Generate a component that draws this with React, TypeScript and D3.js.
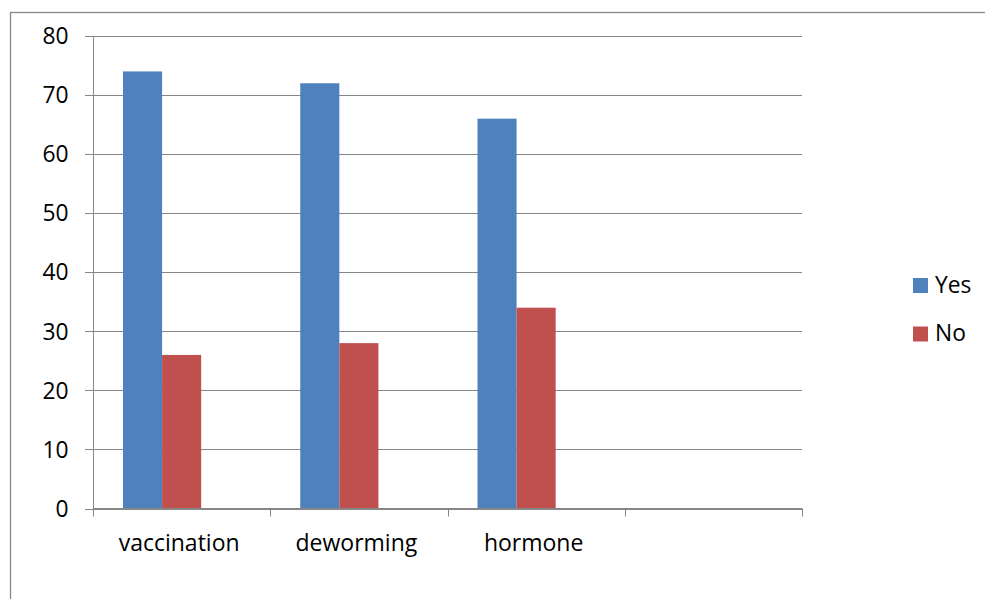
import React from "react";
import * as d3 from "d3";

const categories = ["vaccination", "deworming", "hormone", ""];
const seriesNames = ["Yes", "No"];
const yesValues = [74, 72, 66];
const noValues = [26, 28, 34];
const yTicks = [0, 10, 20, 30, 40, 50, 60, 70, 80];
const colors = ["#4F81BD", "#C0504D"];

const W = 985;
const H = 599;
const FONT = "'Open Sans', sans-serif";

export default function App() {
  const left = 93, right = 802, top = 36, bottom = 508.5;
  const x = d3.scaleBand<string>().domain(categories).range([left, right]).paddingInner(0).paddingOuter(0);
  const y = d3.scaleLinear().domain([0, 80]).range([bottom, top]);
  const bw = x.bandwidth();
  const sub = d3.scaleBand<string>().domain(["Yes", "No", "_"]).range([bw * 0.1692, bw * (1 - 0.1692)]).padding(0);
  const data = categories.slice(0, 3).map((c, i) => ({ c, vals: [yesValues[i], noValues[i]] }));
  const grid = "#868686";
  return (
    <svg width={W} height={H} style={{ position: "absolute", left: 0, top: 0, background: "#fff" }} fontFamily={FONT}>
      <rect x={10.5} y={12.5} width={W} height={H} fill="none" stroke="#878787" strokeWidth={1.3} />
      {yTicks.map((t) => (
        <g key={t}>
          <line x1={85} x2={right} y1={Math.round(y(t)) + 0.5} y2={Math.round(y(t)) + 0.5} stroke={grid} strokeWidth={1} />
          <text x={68.5} y={y(t)} dy="0.36em" textAnchor="end" fontSize={22.8} fill="#000">{t}</text>
        </g>
      ))}
      {data.map((d) =>
        d.vals.map((v, j) => (
          <rect key={d.c + j} x={(x(d.c) as number) + (sub(seriesNames[j]) as number)} y={y(v)} width={sub.bandwidth()} height={y(0) - y(v)} fill={colors[j]} />
        ))
      )}
      <line x1={left + 0.5} x2={left + 0.5} y1={top} y2={bottom} stroke={grid} strokeWidth={1} />
      <line x1={left} x2={right} y1={bottom} y2={bottom} stroke={grid} strokeWidth={1.2} />
      {[...categories.map((c) => x(c) as number), right].map((t, i) => (
        <line key={i} x1={Math.round(t) + 0.5} x2={Math.round(t) + 0.5} y1={bottom} y2={bottom + 8} stroke={grid} strokeWidth={1} />
      ))}
      {categories.map((c) => (
        <text key={c} x={(x(c) as number) + bw / 2 - 2.5} y={551} textAnchor="middle" fontSize={23} fill="#000">{c}</text>
      ))}
      {seriesNames.map((s, i) => (
        <g key={s}>
          <rect x={913} y={278 + i * 48.5} width={15} height={15} fill={colors[i]} />
          <text x={935} y={284.5 + i * 48.5} dy="0.36em" fontSize={22.8} fill="#000">{s}</text>
        </g>
      ))}
    </svg>
  );
}
